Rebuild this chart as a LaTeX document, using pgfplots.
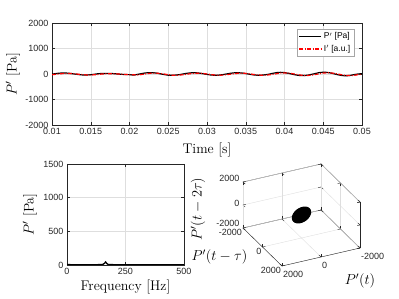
\documentclass[border=0pt]{standalone}
\usepackage{fontspec}
\usepackage{pgfplots}
\pgfplotsset{compat=1.18}
\newfontfamily\sansf{Liberation Sans}
\definecolor{axgray}{gray}{0.15}
\definecolor{gridgray}{gray}{0.87}

\pgfplotsset{
 mystyle/.style={
   scale only axis,
   axis line style={axgray, line width=0.4pt},
   tick style={axgray, line width=0.4pt},
   tick align=inside,
   major tick length=3pt,
   grid=major,
   grid style={gridgray, line width=0.4pt},
   tick label style={font=\sansf\fontsize{9}{10}\selectfont, text=axgray},
   /pgf/number format/assume math mode=true,
   /pgf/number format/1000 sep={},
   scaled ticks=false,
   label style={font=\fontsize{14}{16}\selectfont},
 }
}

\pgfplotstableread{
t P I
0.0100 -4 -28
0.0105 17 -11
0.0110 34 6
0.0115 40 19
0.0120 34 24
0.0125 17 19
0.0130 -4 6
0.0135 -25 -11
0.0140 -38 -28
0.0145 -39 -38
0.0150 -28 -39
0.0155 -9 -30
0.0160 13 -15
0.0165 20 2
0.0170 25 8
0.0175 23 12
0.0180 13 10
0.0185 0 2
0.0190 -13 -8
0.0195 -23 -18
0.0200 -25 -26
0.0205 -43 -28
0.0210 -18 -42
0.0215 12 -22
0.0220 39 2
0.0225 54 23
0.0230 52 35
0.0235 34 34
0.0240 6 19
0.0245 -24 -3
0.0250 -47 -27
0.0255 -50 -46
0.0260 -42 -48
0.0265 -22 -42
0.0270 6 -26
0.0275 31 -3
0.0280 47 17
0.0285 49 30
0.0290 35 31
0.0295 11 20
0.0300 -16 1
0.0305 -39 -21
0.0310 -50 -39
0.0315 -45 -48
0.0320 -27 -44
0.0325 0 -30
0.0330 27 -8
0.0335 45 14
0.0340 50 28
0.0345 39 32
0.0350 17 23
0.0355 -11 6
0.0360 -35 -17
0.0365 -49 -36
0.0370 -47 -47
0.0375 -31 -46
0.0380 -7 -33
0.0385 28 -14
0.0390 55 14
0.0395 65 36
0.0400 55 44
0.0405 28 36
0.0410 -7 14
0.0415 -40 -14
0.0420 -61 -40
0.0425 -63 -57
0.0430 -46 -58
0.0435 -15 -45
0.0440 21 -20
0.0445 55 9
0.0450 70 36
0.0455 63 48
0.0460 37 42
0.0465 0 22
0.0470 -37 -8
0.0475 -63 -38
0.0480 -70 -58
0.0485 -55 -64
0.0490 -23 -52
0.0495 0 -26
0.0500 15 -8
}\timedata

\begin{document}
\begin{tikzpicture}
\useasboundingbox (0,0) rectangle (399pt,299pt);
% ---------------- top: time series
\begin{axis}[mystyle, at={(52pt,174pt)}, anchor=south west,
  width=310pt, height=102pt,
  xmin=0.01, xmax=0.05, ymin=-2000, ymax=2000,
  xtick={0.01,0.015,0.02,0.025,0.03,0.035,0.04,0.045,0.05},
  xticklabels={0.01,0.015,0.02,0.025,0.03,0.035,0.04,0.045,0.05},
  ytick={-2000,-1000,0,1000,2000},
  xlabel={Time [s]}, ylabel={$P'$ [Pa]},
  xlabel style={at={([yshift=-25pt]axis description cs:0.5,0)}, anchor=center},
  ylabel style={at={([xshift=-39pt]axis description cs:0,0.5)}, anchor=center},
  legend style={at={(axis description cs:0.974,0.941)}, anchor=north east,
    draw=gray!70, font=\sansf\fontsize{8.5}{10}\selectfont, inner sep=1.5pt,
    row sep=1pt, cells={anchor=west}},
  legend image code/.code={\draw[mark repeat=2,mark phase=2,#1] plot coordinates {(0pt,0pt) (11pt,0pt) (22pt,0pt)};},
  legend image post style={line width=1.6pt},
]
\addplot[draw=black, line width=1.2pt] table[x=t, y=P] {\timedata};
\addlegendentry{P$'$ [Pa]}
\addplot[draw=red, line width=1.2pt, dash pattern=on 4pt off 1.5pt on 1pt off 1.5pt] table[x=t, y=I] {\timedata};
\addlegendentry{I$'$ [a.u.]}
\end{axis}

% ---------------- bottom left: spectrum
\begin{axis}[mystyle, at={(67pt,34pt)}, anchor=south west,
  width=117pt, height=101pt,
  xmin=0, xmax=500, ymin=0, ymax=1500,
  xtick={0,250,500}, ytick={0,500,1000,1500},
  xlabel={Frequency [Hz]}, ylabel={$P'$ [Pa]},
  xlabel style={at={([yshift=-22pt]axis description cs:0.5,0)}, anchor=center},
  ylabel style={at={([xshift=-37pt]axis description cs:0,0.5)}, anchor=center},
]
\addplot[black, line width=1.3pt] coordinates {
(0,8) (20,4) (40,5) (60,3) (80,4) (100,5) (120,4) (140,6) (150,8) (155,12)
(160,25) (165,45) (170,22) (175,10) (180,6) (200,5) (220,4) (250,3) (280,4)
(320,5) (360,3) (400,3) (450,2) (500,2)};
\end{axis}

% ---------------- bottom right: phase space
\begin{axis}[mystyle, at={(301.5pt,84pt)}, anchor=origin,
  x={(-0.0195pt,-0.0045pt)}, y={(0.00975pt,-0.0095pt)}, z={(0pt,0.0115pt)},
  xmin=-2000, xmax=2000, ymin=-2000, ymax=2000, zmin=-2000, zmax=2000,
  xtick={-2000,0,2000}, ytick={-2000,0,2000}, ztick={-2000,0,2000},
  xticklabel style={anchor=north west, inner sep=1pt, yshift=-4pt},
  yticklabel style={anchor=north east, inner sep=1pt},
  xlabel={$P'(t)$}, ylabel={$P'(t-\tau)$}, zlabel={$P'(t-2\tau)$},
  xlabel style={at={([yshift=-33pt]rel axis cs:0,1,0)}, anchor=center},
  ylabel style={at={([xshift=-23.5pt,yshift=-29pt]rel axis cs:1,0,0)}, anchor=center},
  zlabel style={at={([xshift=-45pt,yshift=-4pt]rel axis cs:1,0,0.5)}, anchor=center},
]
\addplot3[fill=black, draw=black, line width=1pt] coordinates {
(0,-500,0) (103.5,-483,-103.5) (200,-433,-200) (282.8,-353.5,-282.8)
(346.4,-250,-346.4) (386.4,-129.4,-386.4) (400,0,-400) (386.4,129.4,-386.4)
(346.4,250,-346.4) (282.8,353.5,-282.8) (200,433,-200) (103.5,483,-103.5)
(0,500,0) (-103.5,483,103.5) (-200,433,200) (-282.8,353.5,282.8)
(-346.4,250,346.4) (-386.4,129.4,386.4) (-400,0,400) (-386.4,-129.4,386.4)
(-346.4,-250,346.4) (-282.8,-353.5,282.8) (-200,-433,200) (-103.5,-483,103.5)
(0,-500,0)};
\end{axis}
\end{tikzpicture}
\end{document}
